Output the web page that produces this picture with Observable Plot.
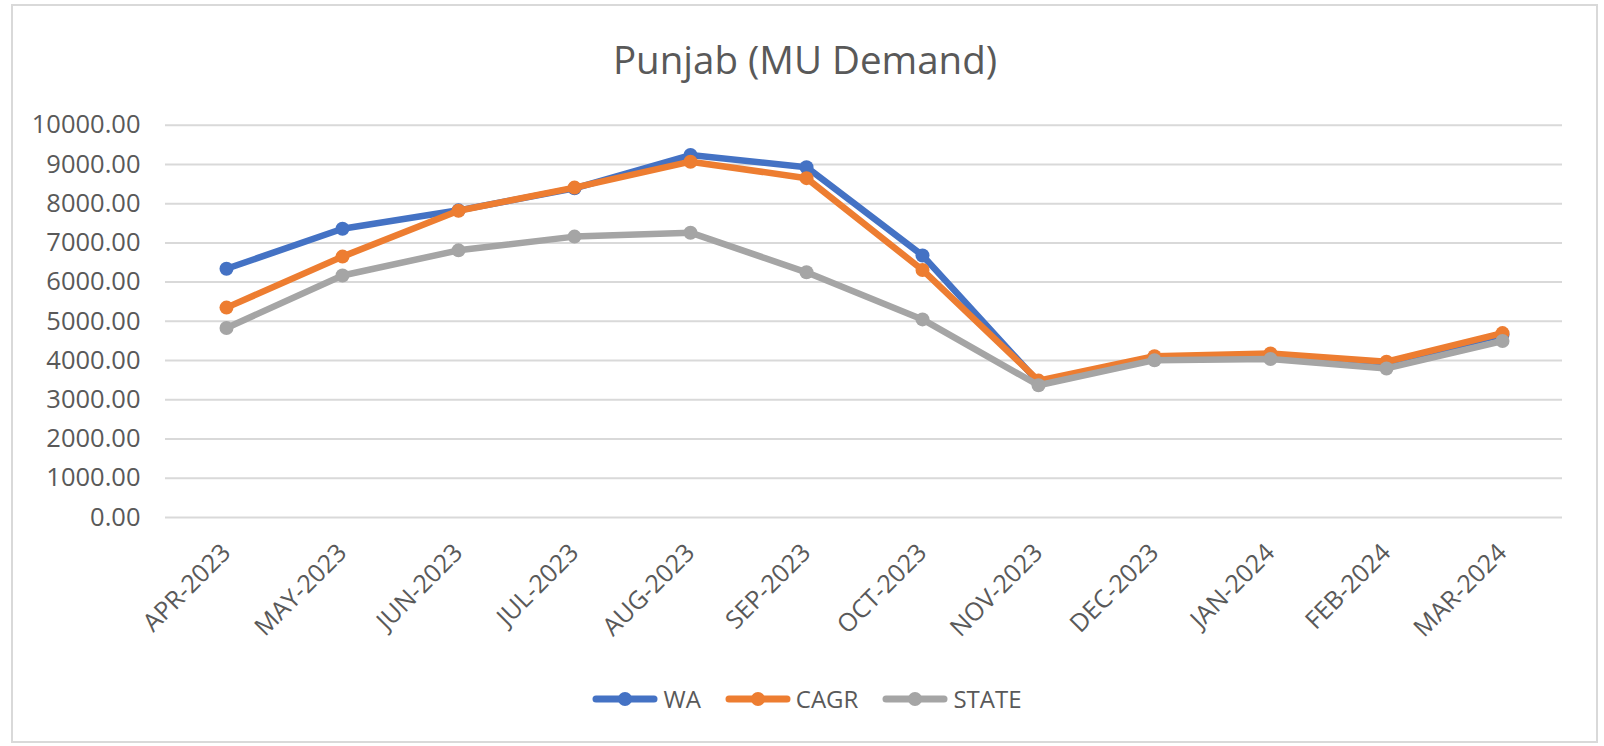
<!DOCTYPE html>
<html>
<head>
<meta charset="utf-8">
<script src="https://cdn.jsdelivr.net/npm/d3@7"></script>
<script src="https://cdn.jsdelivr.net/npm/@observablehq/plot@0.6"></script>
<style>
  html, body { margin: 0; padding: 0; background: #fff; }
  #wrap { position: relative; width: 1604px; height: 746px; overflow: hidden; font-family: "Open Sans", sans-serif; color: #595959; }
  #frame { position: absolute; left: 11px; top: 4px; width: 1587px; height: 739px; border: 2px solid #d9d9d9; box-sizing: border-box; }
  #title { position: absolute; left: 0; width: 1604px; top: 33px; text-align: center; font-size: 38.5px; line-height: 52px; color: #595959; padding-left: 6px; box-sizing: border-box; }
  #chart { position: absolute; left: 0; top: 0; }
  #legend { position: absolute; top: 682px; left: 0; width: 1604px; display: flex; justify-content: center; padding-left: 10px; box-sizing: border-box; }
  .item { display: flex; align-items: center; margin: 0 12px; font-size: 24px; line-height: 34px; color: #595959; }
  .item svg { margin-right: 5px; }
</style>
</head>
<body>
<div id="wrap">
  <div id="frame"></div>
  <div id="title">Punjab (MU Demand)</div>
  <div id="chart"></div>
  <div id="legend"></div>
</div>
<script>
const months = ["APR-2023","MAY-2023","JUN-2023","JUL-2023","AUG-2023","SEP-2023","OCT-2023","NOV-2023","DEC-2023","JAN-2024","FEB-2024","MAR-2024"];
const seriesNames = ["WA","CAGR","STATE"];
const seriesColors = ["#4472C4","#ED7D31","#A5A5A5"];
const WA    = [6340, 7360, 7830, 8390, 9240, 8930, 6680, 3450, 4090, 4150, 3930, 4660];
const CAGR  = [5350, 6650, 7820, 8410, 9070, 8650, 6310, 3490, 4110, 4180, 3970, 4700];
const STATE = [4830, 6170, 6810, 7160, 7260, 6250, 5050, 3370, 4010, 4040, 3800, 4500];
const yTicks = [0,1000,2000,3000,4000,5000,6000,7000,8000,9000,10000];

const seriesValues = [WA, CAGR, STATE];
const table = seriesNames.flatMap((s, i) => months.map((m, j) => ({series: s, month: m, value: seriesValues[i][j]})));

const marks = [
  Plot.gridY(yTicks, {stroke: "#d9d9d9", strokeOpacity: 1, strokeWidth: 2}),
  Plot.axisY(yTicks, {tickSize: 0, tickPadding: 25, tickFormat: d3.format(".2f"), label: null, fill: "#595959", fontSize: 25.5}),
  Plot.axisX({tickSize: 0, tickRotate: -45, tickPadding: 31, label: null, fill: "#595959", fontSize: 25})
];
seriesNames.forEach(s => {
  const d = table.filter(r => r.series === s);
  marks.push(Plot.line(d, {x: "month", y: "value", stroke: "series", strokeWidth: 6.5, strokeLinejoin: "round", strokeLinecap: "round"}));
  marks.push(Plot.dot(d, {x: "month", y: "value", fill: "series", r: 7}));
});

const chart = Plot.plot({
  width: 1604,
  height: 746,
  marginTop: 124.7,
  marginBottom: 229,
  marginLeft: 165,
  marginRight: 42,
  x: {type: "point", domain: months, padding: 0.5, label: null},
  y: {domain: [0, 10000], label: null},
  color: {domain: seriesNames, range: seriesColors},
  style: {fontFamily: "'Open Sans', sans-serif", fontSize: "24px", color: "#595959", background: "transparent", overflow: "visible"},
  marks
});
document.getElementById("chart").appendChild(chart);

const legend = document.getElementById("legend");
seriesNames.forEach((s, i) => {
  const item = document.createElement("div");
  item.className = "item";
  item.innerHTML = `<svg width="66" height="20"><line x1="4" y1="10" x2="62" y2="10" stroke="${seriesColors[i]}" stroke-width="7" stroke-linecap="round"/><circle cx="33" cy="10" r="7" fill="${seriesColors[i]}"/></svg><span>${s}</span>`;
  legend.appendChild(item);
});
</script>
</body>
</html>
